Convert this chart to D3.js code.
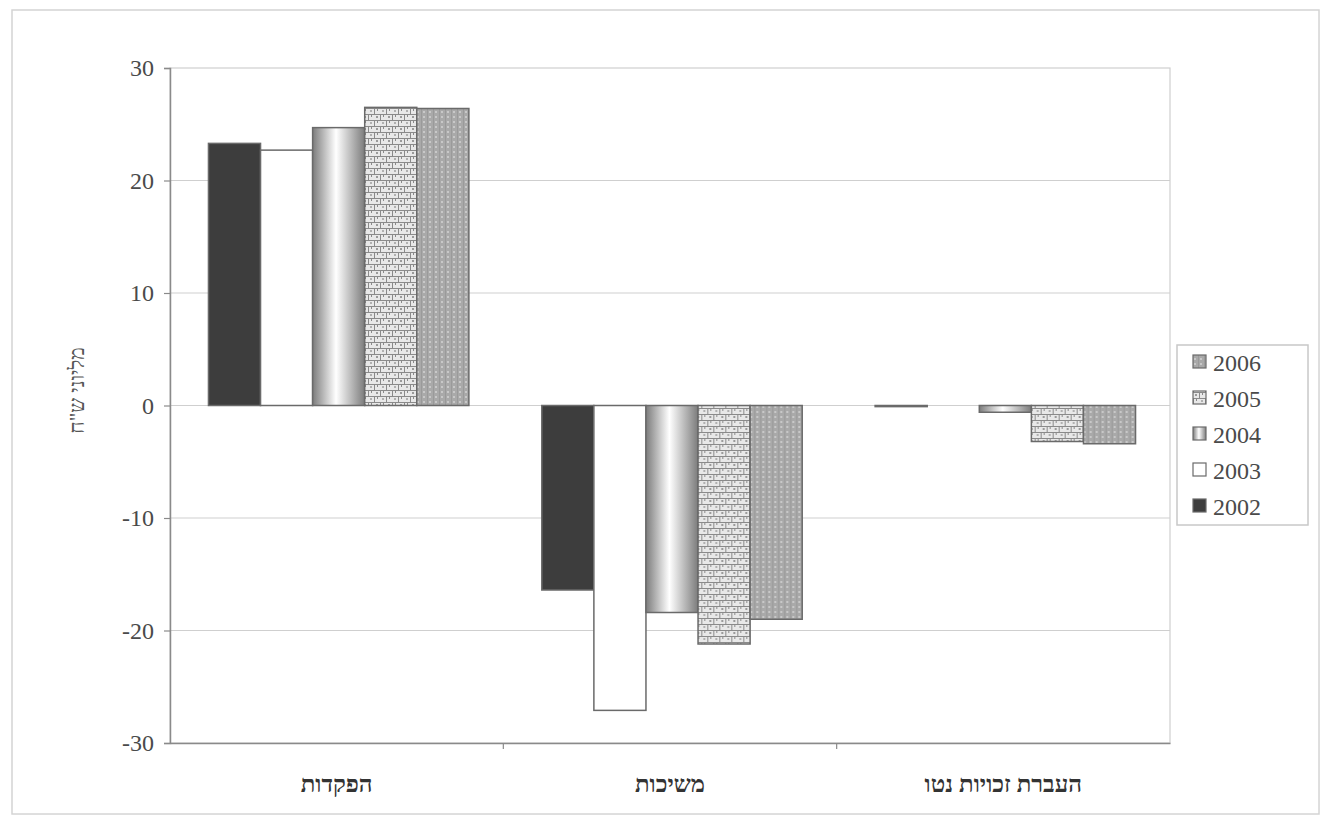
<!DOCTYPE html>
<html><head><meta charset="utf-8">
<script src="https://cdn.jsdelivr.net/npm/d3@7"></script>
<style>
html,body{margin:0;padding:0;background:#fff;}
svg{display:block;}
svg text{font-family:"Liberation Serif","Times New Roman","DejaVu Serif",serif;}
</style></head>
<body>
<svg id="chart" width="1329" height="820"></svg>
<script>
const categories = ["הפקדות", "משיכות", "העברת זכויות נטו"];
const years = ["2002", "2003", "2004", "2005", "2006"];
const values2002 = [23.3, -16.4, -0.1];
const values2003 = [22.7, -27.1, 0];
const values2004 = [24.7, -18.4, -0.6];
const values2005 = [26.5, -21.2, -3.2];
const values2006 = [26.4, -19.0, -3.4];
const yTicks = [-30, -20, -10, 0, 10, 20, 30];
const yLabel = "מליוני ש\"ח";

const series = {"2002": values2002, "2003": values2003, "2004": values2004, "2005": values2005, "2006": values2006};
const SERIF = '"Liberation Serif","Times New Roman","DejaVu Serif",serif';

const svg = d3.select("#chart");
const margin = {left: 170, right: 159, top: 68, bottom: 77};
const W = 1329, H = 820;

// outer frame
svg.append("rect").attr("x", 12).attr("y", 10).attr("width", 1307).attr("height", 804)
  .attr("fill", "#fff").attr("stroke", "#d4d4d4").attr("stroke-width", 1.5);

const defs = svg.append("defs");
const g4 = defs.append("linearGradient").attr("id", "grad2004").attr("x1", "0%").attr("x2", "100%").attr("y1", "0%").attr("y2", "0%");
g4.append("stop").attr("offset", "0%").attr("stop-color", "#7c7c7c");
g4.append("stop").attr("offset", "45%").attr("stop-color", "#ffffff");
g4.append("stop").attr("offset", "100%").attr("stop-color", "#7c7c7c");
const p5 = defs.append("pattern").attr("id", "pat2005").attr("patternUnits", "userSpaceOnUse").attr("width", 12).attr("height", 12);
p5.append("rect").attr("width", 12).attr("height", 12).attr("fill", "#e8e8e8");
p5.append("path").attr("d", "M0 0.5H12 M0 6.5H12 M0.5 0V6 M6.5 6V12 M3.5 0V3 M9.5 6V9")
  .attr("stroke", "#8a8a8a").attr("stroke-width", 1).attr("fill", "none");
p5.append("rect").attr("x", 2).attr("y", 8).attr("width", 2).attr("height", 2).attr("fill", "#9a9a9a");
p5.append("rect").attr("x", 8).attr("y", 2).attr("width", 2).attr("height", 2).attr("fill", "#b0b0b0");
const p6 = defs.append("pattern").attr("id", "pat2006").attr("patternUnits", "userSpaceOnUse").attr("width", 6).attr("height", 5);
p6.append("rect").attr("width", 6).attr("height", 5).attr("fill", "#a9a9a9");
p6.append("rect").attr("x", 1).attr("y", 1).attr("width", 2).attr("height", 2).attr("fill", "#c8c8c8");
p6.append("rect").attr("x", 5).attr("y", 0).attr("width", 1).attr("height", 5).attr("fill", "#9a9a9a");

const fills = {"2002": "#3d3d3d", "2003": "#ffffff", "2004": "url(#grad2004)", "2005": "url(#pat2005)", "2006": "url(#pat2006)"};

const x0 = d3.scaleBand().domain(categories).range([margin.left, W - margin.right]).paddingInner(0).paddingOuter(0);
const x1 = d3.scaleBand().domain(years).range([0, x0.bandwidth()]).paddingInner(0).paddingOuter(0.7);
const y = d3.scaleLinear().domain([-30, 30]).range([H - margin.bottom, margin.top]);

svg.append("rect").attr("x", margin.left).attr("y", margin.top)
  .attr("width", W - margin.right - margin.left).attr("height", y(-30) - y(30))
  .attr("fill", "none").attr("stroke", "#cfcfcf").attr("stroke-width", 1.2);

svg.append("g").selectAll("line").data(yTicks.filter(t => t !== -30 && t !== 30)).join("line")
  .attr("x1", margin.left).attr("x2", W - margin.right)
  .attr("y1", d => y(d)).attr("y2", d => y(d))
  .attr("stroke", "#cfcfcf").attr("stroke-width", 1.2);

const groups = svg.append("g").selectAll("g").data(categories).join("g")
  .attr("transform", d => `translate(${x0(d)},0)`);
groups.selectAll("rect").data((c, i) => years.map(yr => ({yr, v: series[yr][i]}))).join("rect")
  .attr("x", d => x1(d.yr) + 2)
  .attr("width", x1.bandwidth())
  .attr("y", d => Math.min(y(0), y(d.v)))
  .attr("height", d => Math.abs(y(d.v) - y(0)))
  .attr("fill", d => fills[d.yr])
  .attr("stroke", "#6a6a6a").attr("stroke-width", 1.5);

const yAxis = d3.axisLeft(y).tickValues(yTicks).tickFormat(d => String(d)).tickSize(6).tickPadding(10);
const ya = svg.append("g").attr("transform", `translate(${margin.left},0)`).call(yAxis);
ya.attr("font-family", null);
ya.select(".domain").attr("stroke", "#8a8a8a").attr("stroke-width", 1.5);
ya.selectAll(".tick line").attr("stroke", "#8a8a8a").attr("stroke-width", 1.2);
ya.selectAll("text").style("font-family", SERIF)
  .style("font-size", "24px").attr("fill", "#4a4a4a");

const xAxis = d3.axisBottom(x0).tickSize(0).tickPadding(32);
const xa = svg.append("g").attr("transform", `translate(0,${y(-30)})`).call(xAxis);
xa.attr("font-family", null);
xa.select(".domain").attr("stroke", "#8a8a8a").attr("stroke-width", 1.5);
xa.selectAll("text").style("font-family", SERIF)
  .style("font-size", "24px").style("font-weight", "bold").attr("fill", "#333").attr("direction", "rtl");
svg.append("g").selectAll("line").data(categories.slice(1)).join("line")
  .attr("x1", d => x0(d)).attr("x2", d => x0(d))
  .attr("y1", y(-30)).attr("y2", y(-30) + 6)
  .attr("stroke", "#8a8a8a").attr("stroke-width", 1.2);

svg.append("text").attr("transform", `translate(84,${(y(0) - 15)}) rotate(-90)`)
  .attr("text-anchor", "middle").attr("direction", "rtl")
  .style("font-family", SERIF)
  .style("font-size", "21px").attr("fill", "#555").text(yLabel);

const legX = 1177, legY = 345;
svg.append("rect").attr("x", legX).attr("y", legY).attr("width", 131).attr("height", 180)
  .attr("fill", "#fff").attr("stroke", "#c8c8c8").attr("stroke-width", 1.5);
const legOrder = years.slice().reverse();
const leg = svg.append("g").selectAll("g").data(legOrder).join("g")
  .attr("transform", (d, i) => `translate(${legX + 16},${legY + 17 + i * 36})`);
leg.append("rect").attr("width", 13).attr("height", 13).attr("y", -7)
  .attr("fill", d => fills[d]).attr("stroke", "#6a6a6a").attr("stroke-width", 1.2);
leg.append("text").attr("x", 20).attr("y", 0).attr("dy", "0.36em")
  .style("font-family", SERIF)
  .style("font-size", "24px").attr("fill", "#4a4a4a").text(d => d);
</script>
</body></html>
